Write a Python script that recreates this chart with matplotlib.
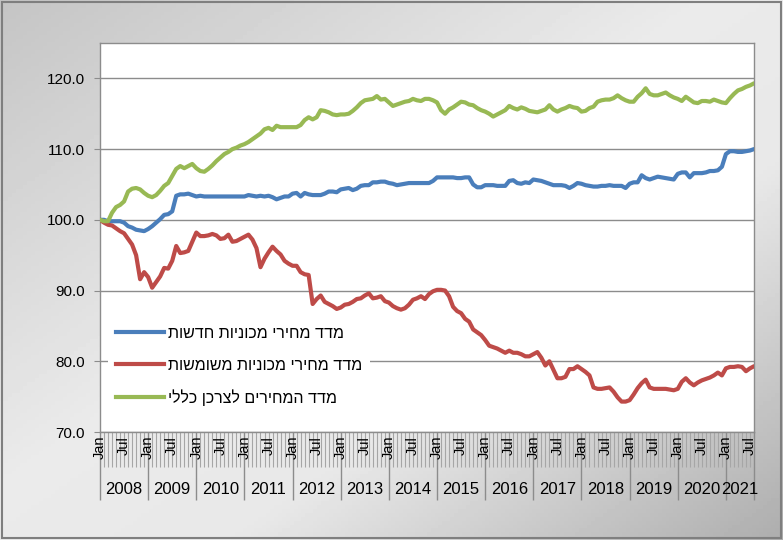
import numpy as np
import matplotlib
matplotlib.use("Agg")
import matplotlib.pyplot as plt
from matplotlib.lines import Line2D
from matplotlib.patches import Rectangle

plt.rcParams['font.family'] = ['Liberation Sans', 'DejaVu Sans']

# monthly values, Jan 2008 .. Aug 2021 (one row per year)
new_cars = [
    100.0, 100.0, 99.8, 99.8, 99.8, 99.8, 99.6, 99.1, 98.9, 98.6, 98.5, 98.4,
    98.7, 99.1, 99.6, 100.1, 100.7, 100.8, 101.2, 103.4, 103.6, 103.6, 103.7, 103.5,
    103.3, 103.4, 103.3, 103.3, 103.3, 103.3, 103.3, 103.3, 103.3, 103.3, 103.3, 103.3,
    103.3, 103.5, 103.4, 103.3, 103.4, 103.3, 103.4, 103.2, 102.9, 103.1, 103.3, 103.3,
    103.7, 103.8, 103.3, 103.8, 103.6, 103.5, 103.5, 103.5, 103.7, 104.0, 104.0, 103.9,
    104.3, 104.4, 104.5, 104.2, 104.4, 104.8, 104.9, 104.9, 105.3, 105.3, 105.4, 105.4,
    105.2, 105.1, 104.9, 105.0, 105.1, 105.2, 105.2, 105.2, 105.2, 105.2, 105.2, 105.5,
    106.0, 106.0, 106.0, 106.0, 106.0, 105.9, 105.9, 106.0, 106.0, 105.0, 104.6, 104.6,
    104.9, 104.9, 104.9, 104.8, 104.8, 104.8, 105.5, 105.6, 105.2, 105.1, 105.3, 105.2,
    105.7, 105.6, 105.5, 105.3, 105.1, 104.9, 104.9, 104.9, 104.8, 104.5, 104.8, 105.2,
    105.1, 104.9, 104.8, 104.7, 104.7, 104.8, 104.8, 104.9, 104.8, 104.8, 104.8, 104.5,
    105.1, 105.3, 105.3, 106.3, 105.9, 105.7, 105.9, 106.1, 106.0, 105.9, 105.8, 105.7,
    106.5, 106.7, 106.7, 106.0, 106.6, 106.6, 106.6, 106.7, 106.9, 106.9, 107.0, 107.5,
    109.3, 109.7, 109.7, 109.6, 109.6, 109.7, 109.8, 110.0,
]

used_cars = [
    100.0, 99.6, 99.3, 99.2, 98.8, 98.4, 98.1, 97.3, 96.5, 95.0, 91.6, 92.6,
    91.9, 90.4, 91.2, 92.0, 93.2, 93.1, 94.2, 96.3, 95.3, 95.4, 95.6, 96.9,
    98.2, 97.7, 97.7, 97.8, 98.0, 97.8, 97.3, 97.4, 97.9, 96.9, 97.0, 97.3,
    97.6, 97.9, 97.2, 96.0, 93.3, 94.5, 95.4, 96.2, 95.6, 95.1, 94.2, 93.8,
    93.5, 93.5, 92.6, 92.3, 92.2, 88.1, 88.8, 89.3, 88.4, 88.1, 87.8, 87.4,
    87.6, 88.0, 88.1, 88.4, 88.8, 88.9, 89.3, 89.6, 88.9, 89.0, 89.2, 88.5,
    88.3, 87.8, 87.5, 87.3, 87.5, 88.0, 88.7, 88.9, 89.2, 88.8, 89.5, 89.9,
    90.1, 90.1, 90.0, 89.2, 87.7, 87.1, 86.8, 86.0, 85.6, 84.5, 84.1, 83.7,
    83.0, 82.2, 82.0, 81.8, 81.5, 81.2, 81.5, 81.2, 81.2, 81.0, 80.7, 80.7,
    81.0, 81.3, 80.5, 79.4, 80.0, 78.8, 77.6, 77.6, 77.8, 78.9, 78.9, 79.3,
    78.9, 78.5, 78.0, 76.3, 76.1, 76.1, 76.2, 76.3, 75.7, 74.9, 74.3, 74.3,
    74.5, 75.3, 76.2, 76.9, 77.4, 76.3, 76.1, 76.1, 76.1, 76.1, 76.0, 75.9,
    76.1, 77.1, 77.6, 77.0, 76.6, 77.0, 77.3, 77.5, 77.7, 78.0, 78.4, 78.0,
    79.0, 79.2, 79.2, 79.3, 79.2, 78.6, 79.0, 79.3,
]

cpi = [
    100.0, 99.8, 99.8, 101.0, 101.8, 102.1, 102.6, 104.0, 104.4, 104.5, 104.3, 103.8,
    103.4, 103.2, 103.5, 104.1, 104.8, 105.2, 106.2, 107.2, 107.6, 107.3, 107.6, 107.9,
    107.3, 106.9, 106.8, 107.2, 107.7, 108.3, 108.8, 109.3, 109.6, 110.0, 110.2, 110.5,
    110.7, 111.0, 111.4, 111.8, 112.2, 112.8, 113.0, 112.7, 113.3, 113.1, 113.1, 113.1,
    113.1, 113.1, 113.4, 114.1, 114.5, 114.2, 114.5, 115.5, 115.4, 115.2, 114.9, 114.8,
    114.9, 114.9, 115.0, 115.4, 115.9, 116.5, 116.9, 117.0, 117.1, 117.5, 117.0, 117.1,
    116.6, 116.1, 116.3, 116.5, 116.7, 116.8, 117.1, 116.9, 116.8, 117.1, 117.1, 116.9,
    116.6, 115.5, 115.0, 115.6, 115.9, 116.3, 116.7, 116.6, 116.3, 116.2, 115.8, 115.5,
    115.3, 115.0, 114.6, 114.9, 115.2, 115.5, 116.1, 115.8, 115.6, 115.9, 115.7, 115.4,
    115.3, 115.2, 115.4, 115.6, 116.2, 115.6, 115.3, 115.6, 115.8, 116.1, 115.9, 115.8,
    115.3, 115.4, 115.8, 116.0, 116.7, 116.9, 117.0, 117.0, 117.2, 117.6, 117.2, 116.9,
    116.7, 116.7, 117.4, 117.9, 118.6, 117.8, 117.6, 117.6, 117.8, 118.0, 117.6, 117.3,
    117.1, 116.8, 117.4, 117.0, 116.6, 116.5, 116.8, 116.8, 116.7, 117.0, 116.8, 116.6,
    116.5, 117.2, 117.8, 118.3, 118.5, 118.8, 119.0, 119.3,
]

years = list(range(2008, 2022))
month_labels = ['Jan', 'Jul']

# legend texts (Hebrew); matplotlib has no bidi, so they are drawn in visual order
label_new = 'מדד מחירי מכוניות חדשות'
label_used = 'מדד מחירי מכוניות משומשות'
label_cpi = 'מדד המחירים לצרכן כללי'

W, H = 783, 540
fig = plt.figure(figsize=(W / 100, H / 100), dpi=100)

# gray gradient background of the chart area
bg = fig.add_axes([0, 0, 1, 1], zorder=-10)
gx, gy = np.meshgrid(np.linspace(0, 1, 200), np.linspace(0, 1, 140))
s = gx + gy  # 0 top-left, 2 bottom-right
shade = np.interp(s, [0, 0.9, 1.3, 2.0], [0.77, 0.92, 0.91, 0.68])
bg.imshow(shade, cmap='gray', vmin=0, vmax=1, aspect='auto', extent=[0, 1, 0, 1],
          origin='upper')
bg.set_xlim(0, 1)
bg.set_ylim(0, 1)
bg.axis('off')
bg.add_patch(Rectangle((0.002, 0.003), 0.995, 0.994, fill=False, edgecolor='#7f7f7f',
                       lw=1.5, transform=bg.transAxes))

ax = fig.add_axes([100 / W, 1 - 432 / H, 654 / W, 389 / H])
ax.set_facecolor('white')

n = len(cpi)
x = np.arange(n)
blue = '#4a7ebb'
red = '#be4b48'
green = '#98b954'
ax.plot(x, new_cars, color=blue, lw=3, solid_capstyle='round', zorder=3)
ax.plot(x, used_cars, color=red, lw=3, solid_capstyle='round', zorder=3)
ax.plot(x, cpi, color=green, lw=3, solid_capstyle='round', zorder=3)

ax.set_xlim(0, n - 1)
ax.set_ylim(70, 125)
ax.set_yticks(np.arange(70, 121, 10))
ax.set_yticklabels([f'{v:.1f}' for v in np.arange(70, 121, 10)], fontsize=11)
ax.yaxis.grid(True, color='#8c8c8c', lw=1)
ax.set_axisbelow(True)
ax.tick_params(axis='y', length=4, color='#8c8c8c', pad=7)

for sp in ax.spines.values():
    sp.set_color('#8c8c8c')
    sp.set_linewidth(1)

# category axis: every month ticked, year separators longer
ax.set_xticks(list(range(0, n, 12)) + [n - 1])
ax.set_xticklabels([])
ax.set_xticks(range(n), minor=True)
ax.tick_params(axis='x', which='major', length=49, width=1, color='#8c8c8c', direction='out')
ax.tick_params(axis='x', which='minor', length=25, width=0.8, color='#a6a6a6', direction='out')

tr = ax.get_xaxis_transform()
for k in range(0, n, 6):
    ax.text(k, -0.01, month_labels[(k // 6) % 2], rotation=90, ha='center', va='top',
            fontsize=10.5, transform=tr, clip_on=False)
for j, yr in enumerate(years):
    start = j * 12
    end = min(start + 12, n - 1)
    ax.text((start + end) / 2, -0.149, str(yr), ha='center', va='center',
            fontsize=12, transform=tr, clip_on=False)

handles = [Line2D([], [], color=blue, lw=3),
           Line2D([], [], color=red, lw=3),
           Line2D([], [], color=green, lw=3)]
labels = [label_new[::-1], label_used[::-1], label_cpi[::-1]]
leg = ax.legend(handles, labels, loc='center left', bbox_to_anchor=(0.0, 0.17),
                fontsize=11.5, handlelength=3.0, handletextpad=0.25, labelspacing=1.05,
                frameon=True, facecolor='white', edgecolor='none', framealpha=1,
                borderpad=0.5)
leg.set_zorder(5)

fig.savefig('out.png', dpi=100)
